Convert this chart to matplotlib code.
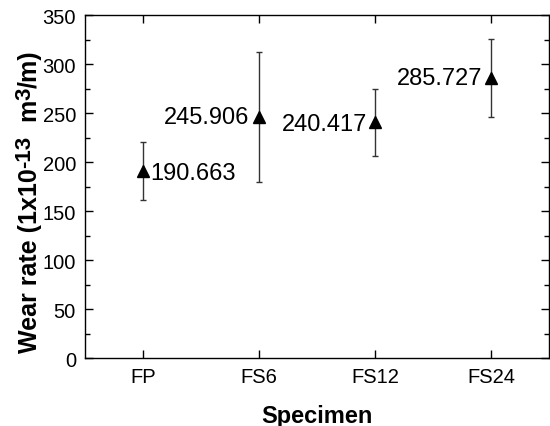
import matplotlib
matplotlib.use('Agg')
import matplotlib.pyplot as plt
import numpy as np
from matplotlib.ticker import MultipleLocator

plt.rcParams['font.family'] = ['Liberation Sans', 'DejaVu Sans']

# Daten
specimens = ['FP', 'FS6', 'FS12', 'FS24']
wear_rate = [190.663, 245.906, 240.417, 285.727]
err_low = [161.5, 180.0, 206.0, 245.6]
err_high = [220.0, 312.0, 274.5, 325.5]

x = np.arange(1, len(specimens) + 1)
yerr = [np.array(wear_rate) - np.array(err_low), np.array(err_high) - np.array(wear_rate)]

W, H = 550, 427
fig = plt.figure(figsize=(W / 100, H / 100), dpi=100)
ax = fig.add_axes([0.1545, 0.159, 0.844, 0.8035])

ax.errorbar(x, wear_rate, yerr=yerr, fmt='none', ecolor='#333333', elinewidth=1.0,
            capsize=2.2, capthick=1.0)
ax.plot(x, wear_rate, linestyle='none', marker='^', color='black', markersize=8)

# Beschriftung der Werte
offsets = [(5, -1, 'left'), (-7, 0, 'right'), (-6, -1, 'right'), (-6, 0, 'right')]
for xi, yi, (dx, dy, ha) in zip(x, wear_rate, offsets):
    ax.annotate(f'{yi:.3f}', (xi, yi), xytext=(dx, dy), textcoords='offset points',
                ha=ha, va='center', fontsize=17)

ax.set_xlim(0.5, 4.5)
ax.set_ylim(0, 350)
ax.set_xticks(x)
ax.set_xticklabels(specimens)
ax.yaxis.set_major_locator(MultipleLocator(50))
ax.yaxis.set_minor_locator(MultipleLocator(25))
ax.tick_params(axis='both', which='both', direction='in', top=True, right=True, labelsize=14.5)
ax.tick_params(axis='x', which='minor', top=False, bottom=False)
ax.tick_params(which='major', length=6, width=1, pad=6.5)
ax.tick_params(which='minor', length=3.5, width=1)
for s in ax.spines.values():
    s.set_linewidth(1.0)

ax.set_xlabel('Specimen', fontsize=17, fontweight='bold', labelpad=13)

# y-Achsenbeschriftung stückweise (große Hochzahlen wie im Original)
pieces = [('Wear rate (1x10', 18, 0), ('-13', 16, 7), ('  m', 18, 0), ('3', 16, 7), ('/m)', 18, 0)]
renderer = fig.canvas.get_renderer()
xright = 42
ypos = 74
for txt, size, rise in pieces:
    t = fig.text((xright - rise) / W, ypos / H, txt, rotation=90,
                 ha='right', va='bottom', fontsize=size, fontweight='bold')
    ypos += t.get_window_extent(renderer).height

fig.savefig('out.png', dpi=100)
